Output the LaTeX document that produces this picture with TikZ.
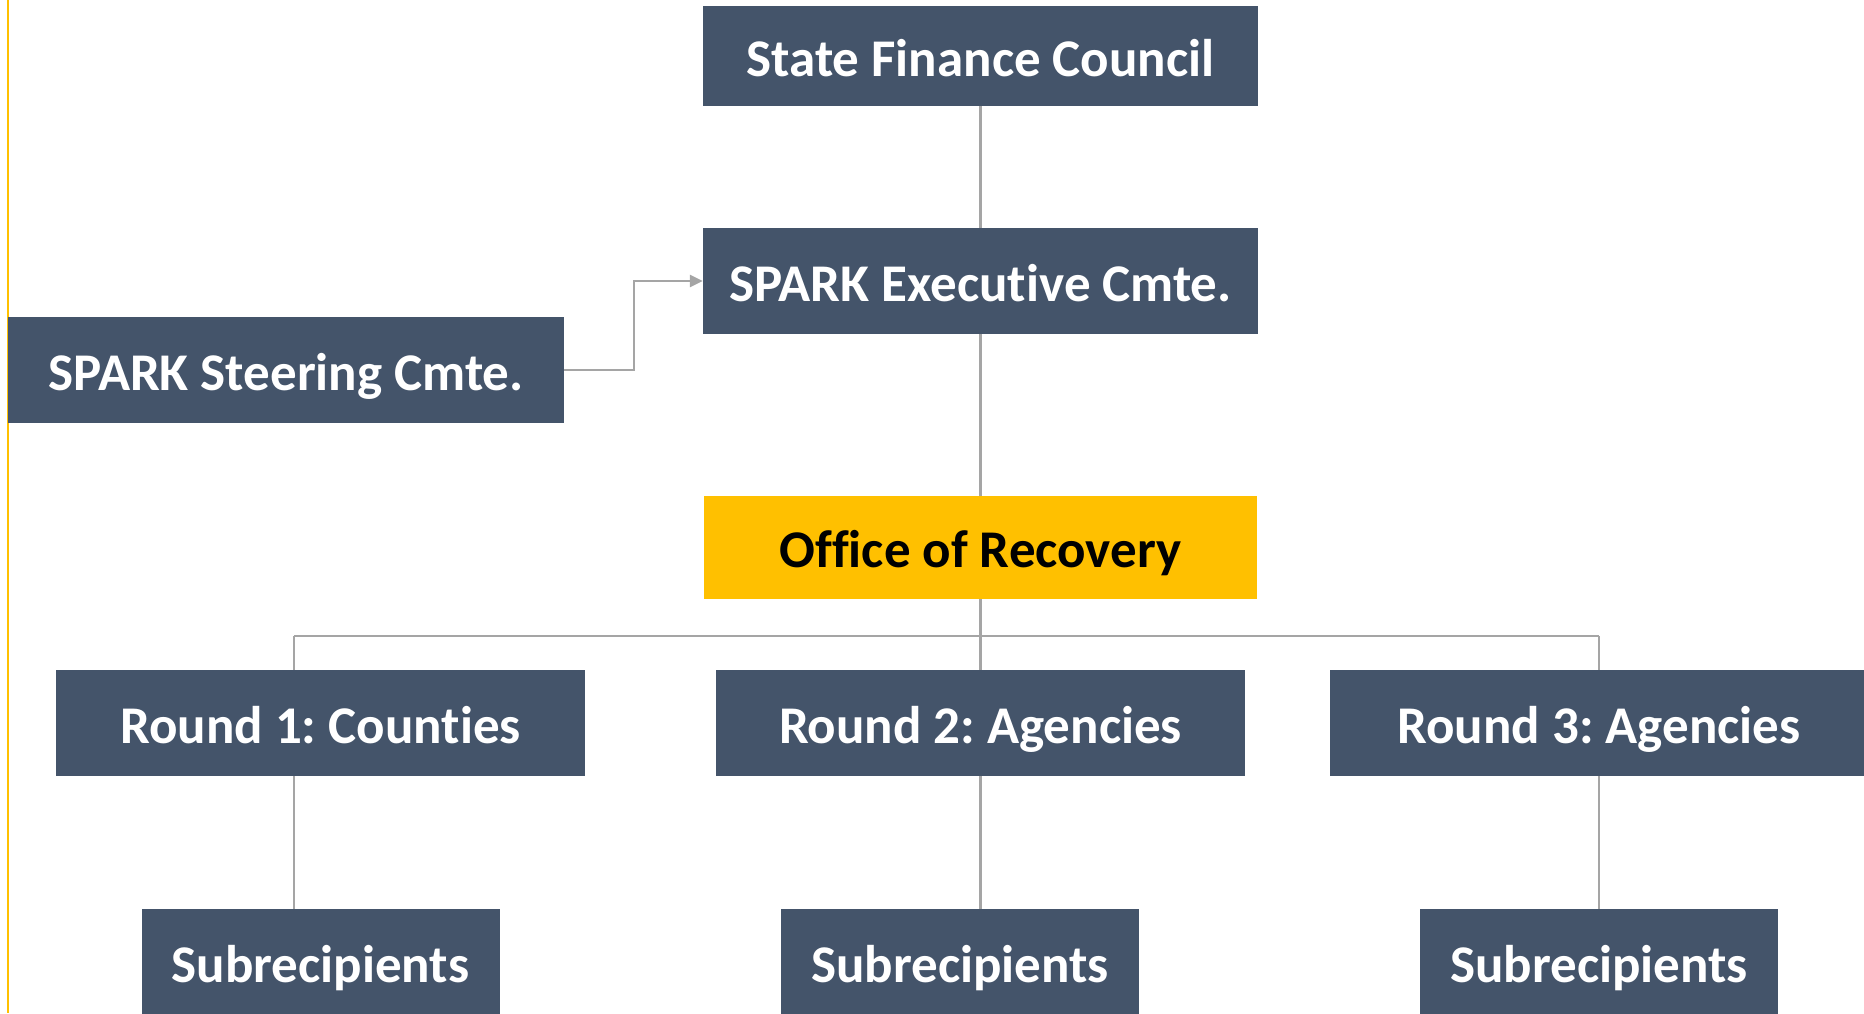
\documentclass[tikz,border=0pt]{standalone}
\usepackage{fontspec}
\setmainfont{Carlito}[Ligatures={NoCommon}]
\usepackage{tikz}
\usepackage{xcolor}
\usetikzlibrary{arrows.meta, positioning}
\definecolor{SlateBlue}{HTML}{44546A}
\definecolor{RecoveryYellow}{HTML}{FFC000}
\definecolor{LinkGrey}{HTML}{A5A5A5}
\frenchspacing

\begin{document}
\begin{tikzpicture}[x=1pt, y=-1pt, on grid,
        box/.style={rectangle, fill=SlateBlue, text=white, minimum width=555pt, minimum height=104pt, inner sep=0pt, text height=44pt, text depth=4pt, align=center, font=\fontsize{53}{60}\selectfont\bfseries},
        roundbox/.style={box, minimum width=529pt, minimum height=106pt},
        subbox/.style={box, minimum width=358pt, minimum height=106pt},
        link/.style={draw=LinkGrey, line width=2.5pt}]

        \useasboundingbox (0,0) rectangle (1864,1013);

        % left margin rule
        \draw[RecoveryYellow, line width=2.5pt] (8,0) -- (8,1013);

        \node[box, minimum height=100pt] (sfc) at (980.5,56) {State Finance Council};

        \node[box, minimum height=106pt, below=225pt of sfc] (exec) {SPARK Executive Cmte.};

        \node[box, minimum width=556pt, minimum height=106pt] (steer) at (286,370) {SPARK Steering Cmte.};

        \node[box, fill=RecoveryYellow, text=black, minimum width=553pt, minimum height=103pt, below=266.5pt of exec] (office) {Office of Recovery};

        \node[roundbox, below=175.5pt of office] (r2) {Round 2: Agencies};
        \node[roundbox, left=660pt of r2] (r1) {Round 1: Counties};
        \node[roundbox, minimum width=538pt, right=618.5pt of r2] (r3) {Round 3: Agencies};

        \node[subbox, below=239pt of r1] (s1) {Subrecipients};
        \node[subbox, below=239pt of r2, xshift=-20.5pt] (s2) {Subrecipients};
        \node[subbox, below=239pt of r3] (s3) {Subrecipients};

        \coordinate (bus1) at (294,636);
        \coordinate (bus2) at (980.5,636);
        \coordinate (bus3) at (1599,636);

        \path[link]
        (sfc) edge (exec)
        (exec) edge (office);

        \draw[link, -{Triangle[length=13pt, width=12pt]}] (steer.east) -- (634,370) |- (exec.west);

        \draw[link] (office.south) -- (bus2);
        \draw[link] (bus1) -- (bus3);
        \draw[link] (bus1) -- (bus1 |- r1.north);
        \draw[link] (bus2) -- (r2.north);
        \draw[link] (bus3) -- (bus3 |- r3.north);

        \draw[link] (r1.south -| bus1) -- (s1.north -| bus1);
        \draw[link] (r2.south) -- (r2.south |- s2.north);
        \draw[link] (r3.south -| bus3) -- (s3.north -| bus3);

    \end{tikzpicture}
\end{document}
